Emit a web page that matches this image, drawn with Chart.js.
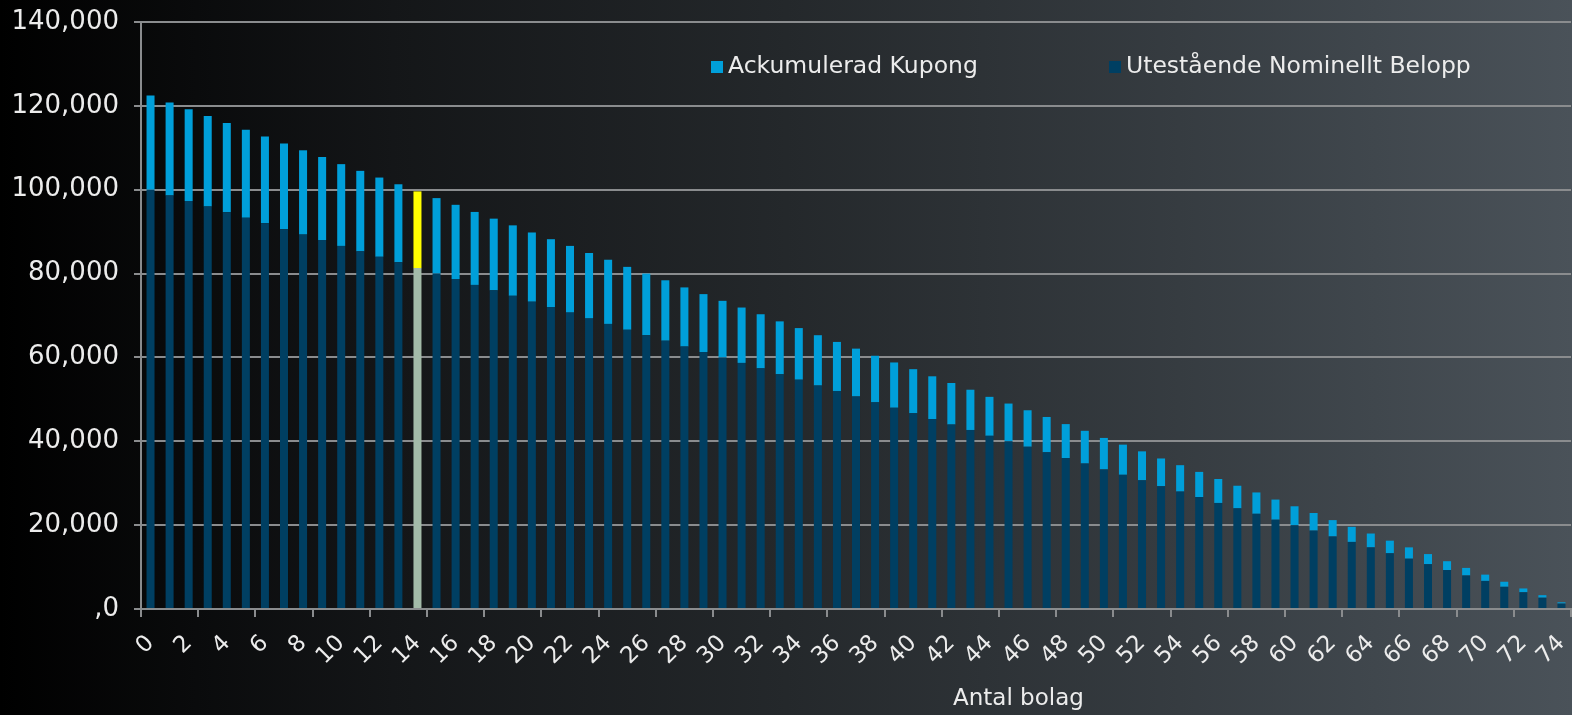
<!DOCTYPE html>
<html>
<head>
<meta charset="utf-8">
<script src="https://cdn.jsdelivr.net/npm/chart.js@4.4.1/dist/chart.umd.min.js"></script>
<style>
  html, body { margin: 0; padding: 0; }
  body {
    width: 1572px; height: 715px; overflow: hidden;
    background: linear-gradient(to right, #000000 0%, #141618 25%, #24282b 50%, #363c41 75%, #4a5259 100%);
    font-family: "DejaVu Sans", sans-serif;
    color: #ececec;
  }
  #wrap { position: relative; width: 1572px; height: 715px; }
  .leg { position: absolute; top: 52px; height: 26px; line-height: 26px; font-size: 23.5px; white-space: nowrap; }
  .leg i { display: inline-block; width: 12px; height: 12px; margin-right: 5px; vertical-align: 0px; }
  #xtitle { position: absolute; left: 953px; top: 684px; font-size: 23px; line-height: 26px; white-space: nowrap; }
</style>
</head>
<body>
<div id="wrap">
  <canvas id="bondChart"></canvas>
  <div class="leg" id="leg0" style="left:711px"></div>
  <div class="leg" id="leg1" style="left:1109px"></div>
  <div id="xtitle">Antal bolag</div>
</div>
<script>
const categories = ['0','1','2','3','4','5','6','7','8','9','10','11','12','13','14','15','16','17','18','19',
  '20','21','22','23','24','25','26','27','28','29','30','31','32','33','34','35','36','37','38','39',
  '40','41','42','43','44','45','46','47','48','49','50','51','52','53','54','55','56','57','58','59',
  '60','61','62','63','64','65','66','67','68','69','70','71','72','73','74'];

// Utestående Nominellt Belopp (bottom of stack)
const nominal = [100000, 98600, 97300, 96000, 94600, 93300, 92000, 90600, 89300, 88000,
  86600, 85300, 84000, 82700, 81300, 80000, 78700, 77300, 76000, 74700,
  73300, 72000, 70700, 69300, 68000, 66600, 65300, 64000, 62600, 61300,
  60000, 58700, 57400, 56000, 54700, 53300, 52000, 50700, 49300, 48000,
  46700, 45300, 44000, 42700, 41300, 40000, 38700, 37400, 36000, 34700,
  33300, 32000, 30700, 29300, 28000, 26700, 25300, 24000, 22700, 21300,
  20000, 18700, 17300, 16000, 14700, 13300, 12000, 10700, 9300, 8000,
  6700, 5300, 4000, 2700, 1300];

// Ackumulerad Kupong (top of stack)
const coupon = [22500, 22200, 21900, 21600, 21300, 21000, 20700, 20400, 20100, 19800,
  19500, 19200, 18900, 18600, 18300, 18000, 17700, 17400, 17100, 16800,
  16500, 16200, 15900, 15600, 15300, 15000, 14700, 14400, 14100, 13800,
  13500, 13200, 12900, 12600, 12300, 12000, 11700, 11400, 11100, 10800,
  10500, 10200, 9900, 9600, 9300, 9000, 8700, 8400, 8100, 7800,
  7500, 7200, 6900, 6600, 6300, 6000, 5700, 5400, 5100, 4800,
  4500, 4200, 3900, 3600, 3300, 3000, 2700, 2400, 2100, 1800,
  1500, 1200, 900, 600, 300];

const yTickLabels = [',0', '20,000', '40,000', '60,000', '80,000', '100,000', '120,000', '140,000'];
const highlightIndex = 14;

document.addEventListener('DOMContentLoaded', function() {
  const ctx = document.getElementById('bondChart').getContext('2d');
  const gridGray = '#8a8c8e';
  const textColor = '#ececec';

  const nominalColors = categories.map((c, i) => i === highlightIndex ? '#a3bba9' : '#003f62');
  const couponColors = categories.map((c, i) => i === highlightIndex ? '#ffff00' : '#009fda');

  const data = {
    labels: categories,
    datasets: [
      {
        label: 'Utestående Nominellt Belopp',
        data: nominal,
        backgroundColor: nominalColors,
        legendColor: '#003f62',
        barPercentage: 0.42,
        categoryPercentage: 1.0
      },
      {
        label: 'Ackumulerad Kupong',
        data: coupon,
        backgroundColor: couponColors,
        legendColor: '#009fda',
        barPercentage: 0.42,
        categoryPercentage: 1.0
      }
    ]
  };

  // Excel style tick marks on the x axis, one every 3 categories
  const xTickMarks = {
    id: 'xTickMarks',
    afterDraw(chart) {
      const x = chart.scales.x;
      const c = chart.ctx;
      const step = x.width / categories.length;
      c.save();
      c.strokeStyle = gridGray;
      c.lineWidth = 2;
      for (let k = 0; k <= categories.length; k += 3) {
        const px = Math.round(x.left + k * step);
        c.beginPath();
        c.moveTo(px, x.top);
        c.lineTo(px, x.top + 8);
        c.stroke();
      }
      c.restore();
    }
  };

  const config = {
    type: 'bar',
    data: data,
    plugins: [xTickMarks],
    options: {
      responsive: true,
      maintainAspectRatio: false,
      animation: false,
      layout: { padding: { top: 22, right: 1, left: 0, bottom: 0 } },
      scales: {
        x: {
          stacked: true,
          afterFit: function(scale) {
            scale.height = 106;
            scale.paddingLeft = 0;
            scale.paddingRight = 0;
          },
          grid: { display: true, color: 'rgba(0,0,0,0)', drawOnChartArea: false, tickLength: 7 },
          border: { display: true, color: gridGray, width: 2 },
          ticks: {
            autoSkip: false,
            maxRotation: 45,
            minRotation: 45,
            padding: 14,
            color: textColor,
            font: { family: 'DejaVu Sans', size: 23 },
            callback: function(value, index) {
              return index % 2 === 0 ? categories[index] : '';
            }
          }
        },
        y: {
          stacked: true,
          min: 0,
          max: 140000,
          afterFit: function(scale) {
            scale.width = 141;
            scale.paddingTop = 0;
            scale.paddingBottom = 0;
          },
          grid: { color: gridGray, lineWidth: 2, tickLength: 7 },
          border: { display: true, color: gridGray, width: 2 },
          ticks: {
            stepSize: 20000,
            padding: 15,
            color: textColor,
            font: { family: 'DejaVu Sans', size: 26 },
            callback: function(value) {
              return yTickLabels[Math.round(value / 20000)];
            }
          }
        }
      },
      plugins: {
        legend: { display: false },
        tooltip: { enabled: false }
      }
    }
  };

  const chart = new Chart(ctx, config);

  // legend, Kupong first as in the original
  [1, 0].forEach(function(dsIndex, pos) {
    const ds = chart.data.datasets[dsIndex];
    const el = document.getElementById('leg' + pos);
    el.innerHTML = '<i style="background:' + ds.legendColor + '"></i>' + ds.label;
  });
});
</script>
</body>
</html>
